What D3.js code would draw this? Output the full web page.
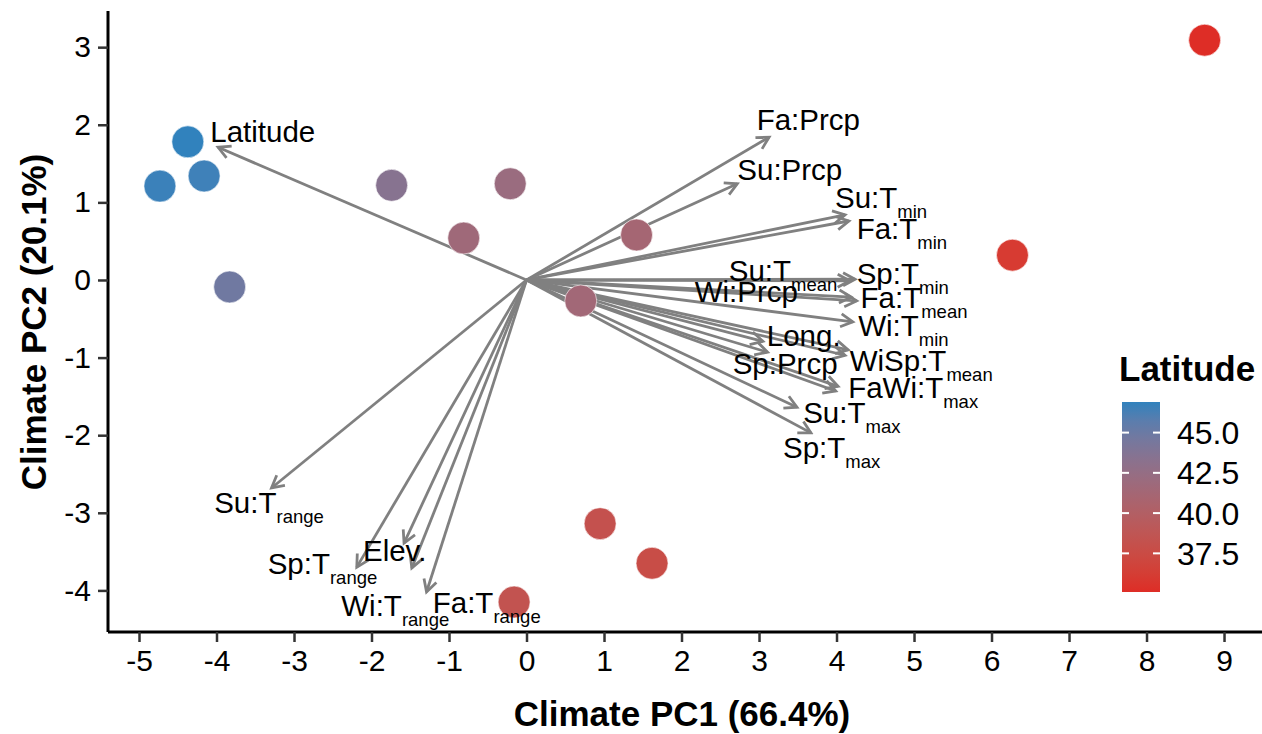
<!DOCTYPE html>
<html>
<head>
<meta charset="utf-8">
<title>Climate PCA biplot</title>
<script src="https://cdn.jsdelivr.net/npm/d3@7"></script>
<style>
  body { margin: 0; background: #fff; }
  text { font-family: "Liberation Sans", Arial, Helvetica, sans-serif; }
</style>
</head>
<body>
<div id="chart"></div>
<script>
// site scores on the first two climate PCs, coloured by latitude
var sitePC1 = [8.75, -4.37, -4.73, -4.16, -3.83, -1.74, -0.21, -0.81, 1.42, 0.70, 6.27, 0.95, 1.62, -0.16];
var sitePC2 = [3.09, 1.78, 1.21, 1.34, -0.09, 1.22, 1.24, 0.54, 0.58, -0.27, 0.32, -3.14, -3.65, -4.15];
var siteLat = [35.1, 46.9, 46.7, 46.6, 44.8, 43.5, 42.1, 41.7, 41.2, 41.5, 36.0, 38.2, 37.7, 38.4];

// loading vectors (arrow tips)
var varNames = ["Latitude", "Fa:Prcp", "Su:Prcp", "Su:Tmin", "Fa:Tmin", "Su:Tmean", "Sp:Tmin",
  "Wi:Prcp", "Fa:Tmean", "Wi:Tmin", "Wi:Tmean", "Sp:Tmean", "Long.", "Sp:Prcp", "Fa:Tmax",
  "Wi:Tmax", "Su:Tmax", "Sp:Tmax", "Su:Trange", "Sp:Trange", "Elev.", "Wi:Trange", "Fa:Trange"];
var loadPC1 = [-3.98, 3.13, 2.72, 4.11, 4.16, 4.17, 4.24, 4.19, 4.26, 4.21, 4.15, 4.11, 3.05, 3.11,
  4.02, 3.99, 3.49, 3.67, -3.29, -2.19, -1.58, -1.48, -1.29];
var loadPC2 = [1.71, 1.84, 1.24, 0.84, 0.76, -0.01, 0.01, -0.22, -0.27, -0.54, -0.90, -0.97, -0.79,
  -0.93, -1.37, -1.43, -1.64, -1.97, -2.68, -3.70, -3.39, -3.71, -4.02];

// repelled text labels (main text + subscript), positions in PC units
var labelMain = ["Latitude", "Fa:Prcp", "Su:Prcp", "Su:T", "Fa:T", "Su:T", "Sp:T", "Wi:Prcp", "Fa:T",
  "Wi:T", "Long.", "Sp:Prcp", "WiSp:T", "FaWi:T", "Su:T", "Sp:T", "Su:T", "Sp:T", "Elev.", "Wi:T", "Fa:T"];
var labelSub = ["", "", "", "min", "min", "mean", "min", "", "mean", "min", "", "", "mean", "max",
  "max", "max", "range", "range", "", "range", "range"];
var labelPC1 = [-4.08, 2.97, 2.72, 3.98, 4.26, 2.61, 4.26, 2.17, 4.31, 4.28, 3.10, 2.66, 4.17, 4.15,
  3.57, 3.31, -4.03, -3.34, -2.11, -2.39, -1.21];
var labelPC2 = [1.92, 2.07, 1.42, 1.07, 0.67, 0.13, 0.09, -0.15, -0.23, -0.59, -0.71, -1.08, -1.03,
  -1.39, -1.70, -2.16, -2.86, -3.65, -3.48, -4.19, -4.15];

var xTicks = [-5, -4, -3, -2, -1, 0, 1, 2, 3, 4, 5, 6, 7, 8, 9];
var yTicks = [-4, -3, -2, -1, 0, 1, 2, 3];
var legendTicks = [37.5, 40.0, 42.5, 45.0];

var W = 1262, H = 734;
var mLeft = 108, mRight = 1262, mTop = 11, mBottom = 632;

var svg = d3.select("#chart").append("svg")
  .attr("width", W)
  .attr("height", H);

var x = d3.scaleLinear().domain([-5.40, 9.49]).range([mLeft, mRight]);
var y = d3.scaleLinear().domain([-4.536, 3.466]).range([mBottom, mTop]);

var latExtent = d3.extent(siteLat);
var color = d3.scaleLinear().domain(latExtent).range(["#de2d26", "#3182bd"])
  .interpolate(d3.interpolateLab);

// arrowhead
var defs = svg.append("defs");
defs.append("marker")
  .attr("id", "head")
  .attr("viewBox", "-15 -9 18 18")
  .attr("refX", 0).attr("refY", 0)
  .attr("markerWidth", 18).attr("markerHeight", 18)
  .attr("markerUnits", "userSpaceOnUse")
  .attr("orient", "auto")
  .append("path")
  .attr("d", "M-12,-6.5 L0,0 L-12,6.5")
  .attr("fill", "none")
  .attr("stroke", "#808080")
  .attr("stroke-width", 2.8)
  .attr("stroke-linejoin", "miter");

// arrows
svg.append("g").selectAll("line")
  .data(varNames)
  .join("line")
  .attr("x1", x(0)).attr("y1", y(0))
  .attr("x2", function(d, i) { return x(loadPC1[i]); })
  .attr("y2", function(d, i) { return y(loadPC2[i]); })
  .attr("stroke", "#808080")
  .attr("stroke-width", 2.8)
  .attr("marker-end", "url(#head)");

// sites
svg.append("g").selectAll("circle")
  .data(sitePC1)
  .join("circle")
  .attr("cx", function(d) { return x(d); })
  .attr("cy", function(d, i) { return y(sitePC2[i]); })
  .attr("r", 16)
  .attr("fill", function(d, i) { return color(siteLat[i]); })
  .attr("stroke", "#fff")
  .attr("stroke-width", 0.6);

// variable labels
var lab = svg.append("g").selectAll("text")
  .data(labelMain)
  .join("text")
  .attr("x", function(d, i) { return x(labelPC1[i]); })
  .attr("y", function(d, i) { return y(labelPC2[i]); })
  .attr("dy", "0.36em")
  .attr("font-size", 29.5)
  .attr("fill", "#000");
lab.append("tspan").text(function(d) { return d; });
lab.append("tspan")
  .attr("font-size", 18.5)
  .attr("dy", 10)
  .text(function(d, i) { return labelSub[i]; });

// axes
var xAxis = svg.append("g")
  .attr("transform", "translate(0," + mBottom + ")")
  .call(d3.axisBottom(x).tickValues(xTicks).tickSize(10).tickPadding(8));
var yAxis = svg.append("g")
  .attr("transform", "translate(" + mLeft + ",0)")
  .call(d3.axisLeft(y).tickValues(yTicks).tickSize(10).tickPadding(7));

[xAxis, yAxis].forEach(function(a) {
  a.select(".domain").attr("stroke", "#000").attr("stroke-width", 3);
  a.selectAll(".tick line").attr("stroke", "#333").attr("stroke-width", 2.5);
  a.selectAll(".tick text").attr("font-size", 30).attr("fill", "#000")
    .style("font-family", "'Liberation Sans', Arial, sans-serif")
    .text(function(d) { return d < 0 ? "-" + Math.abs(d) : String(d); });
});
xAxis.select(".domain").attr("d", "M" + mLeft + ",0H" + mRight);
yAxis.select(".domain").attr("d", "M0," + mTop + "V" + mBottom);

svg.append("text")
  .attr("x", 682).attr("y", 726)
  .attr("text-anchor", "middle")
  .attr("font-size", 35).attr("font-weight", "bold")
  .text("Climate PC1 (66.4%)");

svg.append("text")
  .attr("transform", "translate(46,322) rotate(-90)")
  .attr("text-anchor", "middle")
  .attr("font-size", 35).attr("font-weight", "bold")
  .text("Climate PC2 (20.1%)");

// colour bar legend
var barX = 1122, barW = 38, barTop = 402, barBottom = 592;
var ly = d3.scaleLinear().domain(latExtent).range([barBottom, barTop]);

var grad = defs.append("linearGradient")
  .attr("id", "latgrad")
  .attr("x1", 0).attr("y1", 1).attr("x2", 0).attr("y2", 0);
d3.range(0, 1.0001, 0.1).forEach(function(t) {
  grad.append("stop")
    .attr("offset", t)
    .attr("stop-color", color(latExtent[0] + t * (latExtent[1] - latExtent[0])));
});

svg.append("text")
  .attr("x", 1119).attr("y", 381)
  .attr("font-size", 35).attr("font-weight", "bold")
  .text("Latitude");

svg.append("rect")
  .attr("x", barX).attr("y", barTop)
  .attr("width", barW).attr("height", barBottom - barTop)
  .attr("fill", "url(#latgrad)");

var lg = svg.append("g").selectAll("g")
  .data(legendTicks)
  .join("g");
lg.append("line")
  .attr("x1", barX).attr("x2", barX + 7)
  .attr("y1", function(d) { return ly(d); }).attr("y2", function(d) { return ly(d); })
  .attr("stroke", "#fff").attr("stroke-width", 2);
lg.append("line")
  .attr("x1", barX + barW - 7).attr("x2", barX + barW)
  .attr("y1", function(d) { return ly(d); }).attr("y2", function(d) { return ly(d); })
  .attr("stroke", "#fff").attr("stroke-width", 2);
lg.append("text")
  .attr("x", 1177)
  .attr("y", function(d) { return ly(d); })
  .attr("dy", "0.36em")
  .attr("font-size", 32)
  .text(function(d) { return d.toFixed(1); });
</script>
</body>
</html>
